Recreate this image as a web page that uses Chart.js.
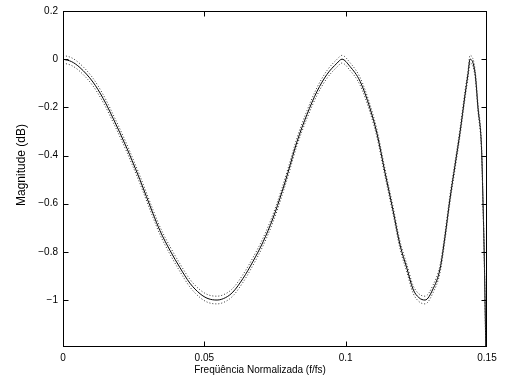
<!DOCTYPE html>
<html lang="pt">
<head>
<meta charset="UTF-8">
<title>Resposta em magnitude</title>
<script src="https://cdn.jsdelivr.net/npm/chart.js"></script>
<style>
  html, body { margin: 0; padding: 0; background: #ffffff; }
  #wrap { width: 511px; height: 389px; }
</style>
</head>
<body>
<div id="wrap"><canvas id="magChart"></canvas></div>
<script>
// frequência normalizada (f/fs)
const freq = [0, 0.003, 0.006, 0.0106, 0.0142, 0.0177, 0.0226, 0.0244, 0.0272, 0.0318,
  0.0343, 0.0379, 0.0414, 0.0449, 0.0485, 0.0513, 0.0545, 0.0575, 0.0601, 0.0637,
  0.0672, 0.0708, 0.0743, 0.0775, 0.0796, 0.0828, 0.0863, 0.0899, 0.0934, 0.0969,
  0.0987, 0.1015, 0.1051, 0.1086, 0.1111, 0.1139, 0.1168, 0.1192, 0.1217, 0.1238,
  0.1259, 0.1281, 0.1309, 0.1334, 0.1351, 0.1369, 0.1387, 0.1405, 0.1422, 0.1433,
  0.1440, 0.1458, 0.1468, 0.1481, 0.1486, 0.1490, 0.1493, 0.1497];

// resposta nominal (dB)
const magnitude = [0, -0.01, -0.035, -0.095, -0.163, -0.245, -0.37, -0.42, -0.50, -0.64,
  -0.712, -0.795, -0.866, -0.93, -0.974, -0.994, -1.0, -0.99, -0.967, -0.91,
  -0.84, -0.758, -0.66, -0.55, -0.47, -0.342, -0.23, -0.133, -0.063, -0.017,
  0, -0.03, -0.092, -0.204, -0.31, -0.47, -0.63, -0.77, -0.87, -0.954,
  -0.99, -1.0, -0.954, -0.87, -0.74, -0.58, -0.44, -0.30, -0.15, -0.06,
  0, -0.06, -0.2, -0.38, -0.6, -0.8, -1.0, -1.3];

// limites superior e inferior (pontilhados)
const upper = [0.016, 0.006, -0.019, -0.079, -0.147, -0.229, -0.354, -0.404, -0.484, -0.624,
  -0.696, -0.779, -0.85, -0.914, -0.958, -0.978, -0.984, -0.974, -0.951, -0.894,
  -0.824, -0.742, -0.644, -0.534, -0.454, -0.326, -0.214, -0.117, -0.047, -0.001,
  0.016, -0.014, -0.076, -0.188, -0.294, -0.454, -0.614, -0.754, -0.854, -0.938,
  -0.974, -0.984, -0.938, -0.854, -0.724, -0.564, -0.424, -0.284, -0.134, -0.044,
  0.016, -0.044, -0.184, -0.364, -0.584, -0.784, -0.984, -1.284];

const lower = [-0.016, -0.026, -0.051, -0.111, -0.179, -0.261, -0.386, -0.436, -0.516, -0.656,
  -0.728, -0.811, -0.882, -0.946, -0.99, -1.01, -1.016, -1.006, -0.983, -0.926,
  -0.856, -0.774, -0.676, -0.566, -0.486, -0.358, -0.246, -0.149, -0.079, -0.033,
  -0.016, -0.046, -0.108, -0.22, -0.326, -0.486, -0.646, -0.786, -0.886, -0.97,
  -1.006, -1.016, -0.97, -0.886, -0.756, -0.596, -0.456, -0.316, -0.166, -0.076,
  -0.016, -0.076, -0.216, -0.396, -0.616, -0.816, -1.016, -1.316];

const xTicks = [0, 0.05, 0.1, 0.15];
const yTicks = [0.2, 0, -0.2, -0.4, -0.6, -0.8, -1];

const xLabel = 'Freqüência Normalizada (f/fs)';
const yLabel = 'Magnitude (dB)';

const pts = arr => arr.map((v, i) => ({ x: freq[i], y: v }));
const family = "'Liberation Sans', Arial, sans-serif";
const fontSpec = { family: family, size: 10 };

// moldura com marcas de escala para dentro, nos quatro lados, e rótulos dos eixos
const boxFrame = {
  id: 'boxFrame',
  afterDraw(chart) {
    const { ctx, chartArea: a, scales } = chart;
    const L = Math.round(a.left) + 0.5, R = Math.round(a.right) - 0.5;
    const T = Math.round(a.top) + 0.5, B = Math.round(a.bottom) - 0.5;
    const len = 5;
    const clampX = p => Math.min(Math.max(p, L), R);
    const clampY = p => Math.min(Math.max(p, T), B);
    ctx.save();
    ctx.strokeStyle = '#000';
    ctx.lineWidth = 1;
    ctx.strokeRect(L, T, R - L, B - T);
    ctx.beginPath();
    xTicks.forEach(v => {
      const px = clampX(Math.round(scales.x.getPixelForValue(v)) + 0.5);
      ctx.moveTo(px, B); ctx.lineTo(px, B - len);
      ctx.moveTo(px, T); ctx.lineTo(px, T + len);
    });
    yTicks.forEach(v => {
      const py = clampY(Math.round(scales.y.getPixelForValue(v)) + 0.5);
      ctx.moveTo(L, py); ctx.lineTo(L + len, py);
      ctx.moveTo(R, py); ctx.lineTo(R - len, py);
    });
    ctx.stroke();

    ctx.fillStyle = '#000';
    ctx.textAlign = 'center';
    ctx.textBaseline = 'middle';
    ctx.font = '10px ' + family;
    ctx.fillText(xLabel, 260, 370);
    ctx.translate(22, 165);
    ctx.rotate(-Math.PI / 2);
    ctx.font = '12px ' + family;
    ctx.fillText(yLabel, 0, 0);
    ctx.restore();
  }
};

const fmt = v => (v < 0 ? '\u2212' + Math.abs(v) : String(v));

new Chart(document.getElementById('magChart'), {
  type: 'line',
  data: {
    datasets: [
      { data: pts(upper), borderColor: '#333', borderWidth: 1, borderDash: [1, 2],
        pointRadius: 0, cubicInterpolationMode: 'monotone' },
      { data: pts(lower), borderColor: '#333', borderWidth: 1, borderDash: [1, 2],
        pointRadius: 0, cubicInterpolationMode: 'monotone' },
      { data: pts(magnitude), borderColor: '#000', borderWidth: 1,
        pointRadius: 0, cubicInterpolationMode: 'monotone' }
    ]
  },
  options: {
    responsive: true,
    maintainAspectRatio: false,
    animation: false,
    layout: { padding: { top: 11, right: 24, left: 0, bottom: 0 } },
    plugins: { legend: { display: false }, tooltip: { enabled: false } },
    scales: {
      x: {
        type: 'linear', min: 0, max: 0.15,
        grid: { display: false, drawTicks: false },
        border: { display: false },
        afterBuildTicks: s => { s.ticks = xTicks.map(v => ({ value: v })); },
        afterFit: s => { s.height = 42; },
        ticks: { color: '#000', font: fontSpec, padding: 5, maxRotation: 0, callback: fmt }
      },
      y: {
        type: 'linear', min: -1.195, max: 0.2,
        grid: { display: false, drawTicks: false },
        border: { display: false },
        afterBuildTicks: s => { s.ticks = yTicks.map(v => ({ value: v })); },
        afterFit: s => { s.width = 63; },
        ticks: { color: '#000', font: fontSpec, padding: 5, callback: fmt }
      }
    }
  },
  plugins: [boxFrame]
});
</script>
</body>
</html>
